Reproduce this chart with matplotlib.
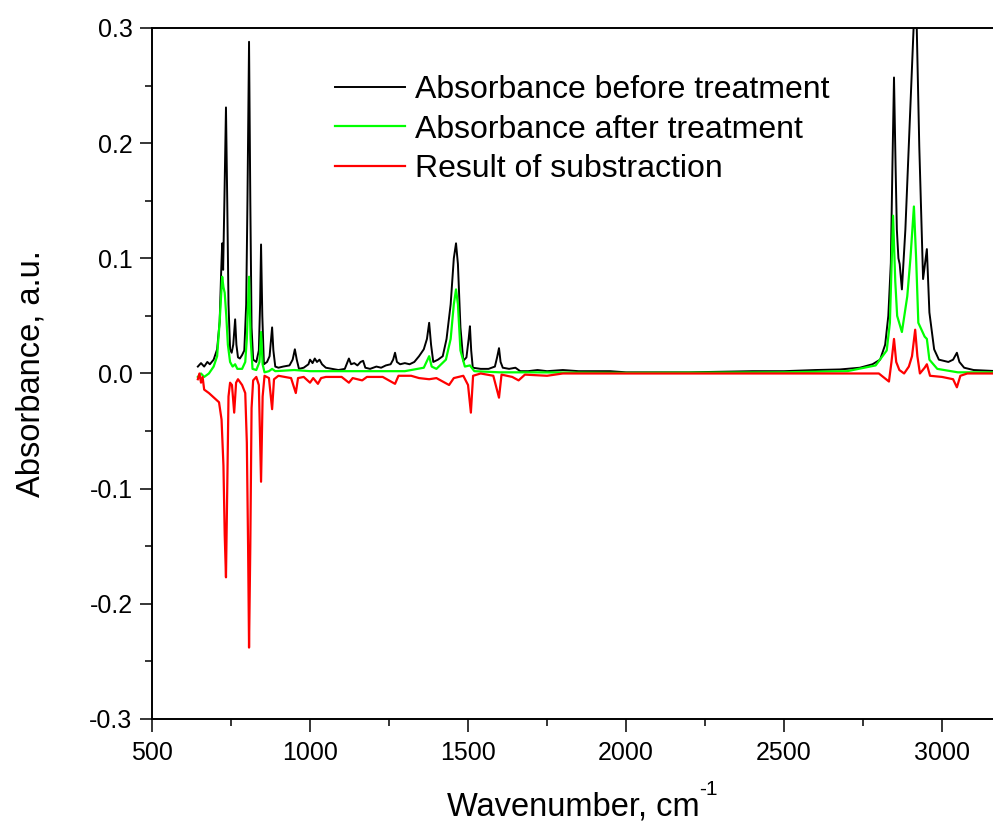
import matplotlib
matplotlib.use("Agg")
import matplotlib.pyplot as plt
from matplotlib.ticker import MultipleLocator, FormatStrFormatter

plt.rcParams['font.family'] = ['Liberation Sans', 'DejaVu Sans']
plt.rcParams['axes.unicode_minus'] = False

# ---------------- data ----------------
before_wn = [645, 655, 665, 675, 683, 695, 706, 714, 719, 722, 725, 729, 734, 738, 742, 747,
             752, 757, 763, 767, 772, 778, 785, 792, 798, 802, 807, 811, 815, 820, 830, 838,
             842, 845, 849, 854, 864, 872, 877, 880, 884, 890, 900, 915, 935, 945, 952, 958,
             965, 980, 995, 1000, 1008, 1015, 1022, 1030, 1038, 1050, 1070, 1090, 1110, 1123,
             1130, 1140, 1150, 1160, 1168, 1175, 1190, 1210, 1225, 1240, 1255, 1263, 1269, 1275,
             1285, 1300, 1315, 1330, 1345, 1360, 1370, 1377, 1383, 1390, 1405, 1420, 1432, 1445,
             1455, 1462, 1468, 1476, 1485, 1495, 1502, 1506, 1510, 1515, 1540, 1565, 1585, 1592,
             1598, 1603, 1610, 1630, 1650, 1665, 1690, 1720, 1750, 1800, 1850, 1900, 1950, 2000,
             2100, 2200, 2300, 2400, 2500, 2600, 2677, 2740, 2780, 2804, 2820, 2830, 2838, 2843,
             2848, 2853, 2857, 2862, 2866, 2873, 2884, 2897, 2910, 2915, 2920, 2928, 2940, 2946,
             2952, 2960, 2975, 2990, 3020, 3035, 3047, 3055, 3070, 3100, 3177]
before_abs = [0.006, 0.009, 0.006, 0.010, 0.008, 0.012, 0.021, 0.045, 0.090, 0.113, 0.090, 0.150,
              0.231, 0.150, 0.060, 0.021, 0.018, 0.025, 0.047, 0.025, 0.014, 0.013, 0.016, 0.020,
              0.060, 0.150, 0.288, 0.150, 0.040, 0.012, 0.010, 0.020, 0.060, 0.112, 0.050, 0.008,
              0.010, 0.015, 0.030, 0.040, 0.020, 0.006, 0.005, 0.006, 0.007, 0.012, 0.021, 0.012,
              0.004, 0.005, 0.008, 0.012, 0.009, 0.013, 0.010, 0.012, 0.008, 0.005, 0.004, 0.003,
              0.004, 0.013, 0.008, 0.009, 0.007, 0.010, 0.011, 0.005, 0.004, 0.006, 0.005, 0.007,
              0.008, 0.012, 0.018, 0.010, 0.008, 0.009, 0.008, 0.010, 0.015, 0.021, 0.030, 0.044,
              0.025, 0.010, 0.012, 0.015, 0.030, 0.060, 0.100, 0.113, 0.095, 0.040, 0.011, 0.014,
              0.030, 0.041, 0.020, 0.005, 0.004, 0.004, 0.006, 0.014, 0.022, 0.010, 0.005, 0.004,
              0.005, 0.002, 0.002, 0.003, 0.002, 0.003, 0.002, 0.002, 0.002, 0.001, 0.001, 0.001,
              0.0015, 0.002, 0.002, 0.003, 0.0035, 0.005, 0.008, 0.012, 0.025, 0.050, 0.096, 0.180,
              0.257, 0.180, 0.125, 0.100, 0.095, 0.073, 0.125, 0.212, 0.300, 0.320, 0.300, 0.197,
              0.082, 0.095, 0.108, 0.053, 0.021, 0.012, 0.010, 0.012, 0.018, 0.010, 0.005, 0.003,
              0.002]

after_wn = [645, 655, 665, 680, 695, 706, 714, 722, 726, 730, 735, 740, 747, 755, 763, 770, 785,
            795, 800, 807, 812, 818, 830, 840, 845, 850, 856, 870, 880, 890, 950, 1000, 1100, 1200,
            1300, 1360, 1377, 1385, 1400, 1430, 1445, 1455, 1462, 1468, 1476, 1490, 1506, 1520,
            1600, 1700, 2000, 2500, 2700, 2790, 2825, 2835, 2845, 2852, 2858, 2873, 2890, 2900,
            2911, 2918, 2925, 2945, 2952, 2960, 2985, 3050, 3177]
after_abs = [-0.003, 0.000, -0.003, 0.000, 0.006, 0.015, 0.045, 0.084, 0.075, 0.070, 0.050, 0.025,
             0.010, 0.006, 0.008, 0.004, 0.004, 0.010, 0.030, 0.084, 0.030, 0.004, 0.003, 0.010,
             0.036, 0.008, 0.001, 0.002, 0.004, 0.002, 0.003, 0.002, 0.002, 0.002, 0.002, 0.005,
             0.015, 0.006, 0.004, 0.012, 0.030, 0.060, 0.073, 0.060, 0.020, 0.006, 0.007, 0.002,
             0.001, 0.001, 0.0005, 0.001, 0.002, 0.007, 0.020, 0.044, 0.137, 0.080, 0.050, 0.036,
             0.067, 0.100, 0.145, 0.100, 0.044, 0.032, 0.030, 0.012, 0.004, 0.001, 0.001]

diff_wn = [645, 650, 655, 660, 665, 680, 700, 712, 720, 726, 730, 734, 738, 742, 747, 753, 760,
           766, 772, 785, 795, 800, 804, 807, 811, 815, 820, 830, 838, 845, 850, 856, 870, 880,
           886, 900, 920, 940, 955, 962, 980, 1000, 1010, 1025, 1035, 1050, 1100, 1123, 1135,
           1165, 1180, 1230, 1269, 1280, 1320, 1345, 1377, 1400, 1440, 1455, 1485, 1500, 1509,
           1516, 1540, 1580, 1598, 1606, 1640, 1660, 1680, 1750, 1800, 2000, 2500, 2800, 2832,
           2840, 2848, 2855, 2865, 2880, 2895, 2905, 2915, 2922, 2930, 2945, 2952, 2962, 3000,
           3035, 3047, 3058, 3080, 3177]
diff_abs = [-0.005, 0.000, -0.008, -0.003, -0.014, -0.017, -0.022, -0.025, -0.040, -0.080, -0.140,
            -0.177, -0.100, -0.020, -0.008, -0.010, -0.034, -0.008, -0.005, -0.010, -0.017, -0.060,
            -0.150, -0.238, -0.150, -0.030, -0.006, -0.003, -0.010, -0.094, -0.020, -0.002, -0.004,
            -0.031, -0.005, -0.002, -0.003, -0.004, -0.017, -0.004, -0.003, -0.008, -0.004, -0.009,
            -0.004, -0.003, -0.003, -0.008, -0.004, -0.006, -0.003, -0.003, -0.009, -0.002, -0.002,
            -0.004, -0.005, -0.004, -0.010, -0.004, -0.002, -0.010, -0.034, -0.002, 0.000, -0.002,
            -0.021, -0.001, -0.003, -0.006, -0.001, -0.002, 0.000, 0.000, 0.000, 0.000, -0.007,
            0.010, 0.030, 0.010, 0.003, 0.000, 0.006, 0.015, 0.038, 0.015, 0.000, 0.005, 0.008,
            -0.002, -0.003, -0.005, -0.012, -0.002, 0.000, 0.000]

labels = ["Absorbance before treatment", "Absorbance after treatment", "Result of substraction"]
colors = ["#000000", "#00ff00", "#ff0000"]

# ---------------- figure ----------------
fig = plt.figure(figsize=(9.93, 8.25), dpi=100)
ax = fig.add_axes([0.1531, 0.1285, 1.005 - 0.1531, 0.8376])

ax.plot(before_wn, before_abs, color=colors[0], lw=1.4, label=labels[0])
ax.plot(after_wn, after_abs, color=colors[1], lw=1.6, label=labels[1])
ax.plot(diff_wn, diff_abs, color=colors[2], lw=1.6, label=labels[2])

ax.set_xlim(500, 3177)
ax.set_ylim(-0.3, 0.3)
ax.xaxis.set_major_locator(MultipleLocator(500))
ax.xaxis.set_minor_locator(MultipleLocator(250))
ax.yaxis.set_major_locator(MultipleLocator(0.1))
ax.yaxis.set_minor_locator(MultipleLocator(0.05))
ax.yaxis.set_major_formatter(FormatStrFormatter('%.1f'))

for s in ['left', 'bottom', 'top']:
    ax.spines[s].set_linewidth(1.4)
ax.spines['right'].set_visible(False)

ax.tick_params(axis='both', which='major', direction='out', length=9, width=1.1, labelsize=18)
ax.tick_params(axis='both', which='minor', direction='out', length=5, width=1.1)
ax.tick_params(axis='x', which='major', pad=7)
ax.tick_params(axis='y', which='major', pad=5)
ax.tick_params(top=False, right=False, which='both')

# x label with a hyphen superscript
xl = fig.text(447 / 993, 1 - 816 / 825, "Wavenumber, cm", fontsize=23.5,
              ha='left', va='baseline')
ax.annotate("-1", xy=(1.0, 0.78), xycoords=xl, fontsize=15, ha='left', va='bottom')

ax.set_ylabel("Absorbance, a.u.", fontsize=23.5, va='center')
ax.yaxis.set_label_coords(-0.143, 0.5)

leg = ax.legend(loc='upper left', bbox_to_anchor=(335 / 993, 1 - 75 / 825),
                bbox_transform=fig.transFigure, frameon=False, fontsize=23,
                borderpad=0, borderaxespad=0, handlelength=2.19, handletextpad=0.31,
                labelspacing=0.3)

fig.savefig("out.png", dpi=100)
